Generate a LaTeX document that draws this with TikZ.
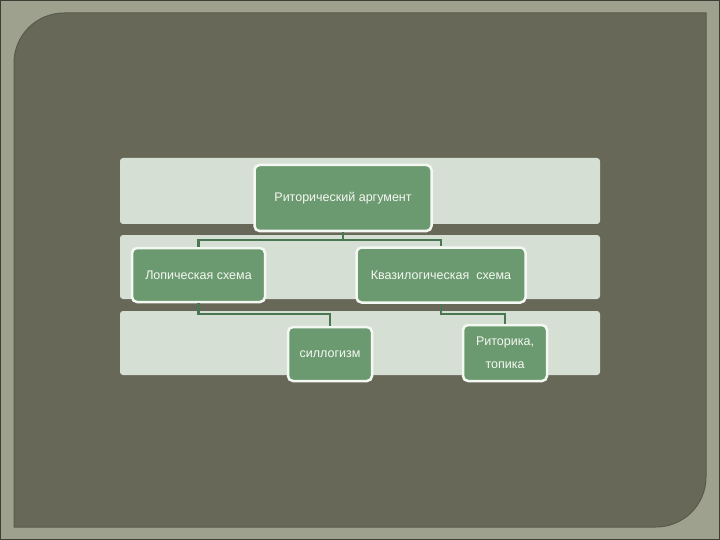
\documentclass[tikz,border=0pt]{standalone}
\usepackage{fontspec}
\setmainfont{Liberation Sans}
\usetikzlibrary{calc}
\definecolor{framecol}{HTML}{9FA18F}
\definecolor{edgecol}{HTML}{3E3E34}
\definecolor{panelcol}{HTML}{686858}
\definecolor{paneledge}{HTML}{5A5A4C}
\definecolor{bandcol}{HTML}{D5DFD4}
\definecolor{nodecol}{HTML}{6C9A70}
\definecolor{linecol}{HTML}{4A7752}
\definecolor{txtcol}{HTML}{F4F8F2}
\tikzset{
  band/.style={fill=bandcol, rounded corners=3pt},
  box/.style={draw=txtcol, line width=2.5pt, fill=nodecol, rounded corners=5pt,
    text=txtcol, font=\fontsize{12.5}{15}\selectfont, align=center, inner sep=0pt},
  conn/.style={draw=linecol, line width=2.5pt},
}
\begin{document}
\begin{tikzpicture}[x=1pt,y=-1pt]
\useasboundingbox (0,0) rectangle (720,540);
% frame
\fill[framecol] (0,0) rectangle (720,540);
\draw[edgecol, line width=1pt] (0.5,0.5) rectangle (719.5,539.5);
% panel
\filldraw[fill=panelcol, draw=paneledge, line width=1pt]
  (14,527) -- (14,300) [rounded corners=50pt] -- (14,13) -- (300,13) [sharp corners]
  -- (706,13) -- (706,300) [rounded corners=50pt] -- (706,527) -- (400,527) [sharp corners] -- cycle;
% bands
\fill[band] (120,158) rectangle (600,224);
\fill[band] (120,235) rectangle (600,299);
\fill[band] (120,311) rectangle (600,375);
% nodes
\node[box, minimum width=177pt, minimum height=66pt] (root) at (343,198) {Риторический аргумент};
\node[box, minimum width=133pt, minimum height=54pt] (lop) at (198.5,275) {Лопическая схема};
\node[box, minimum width=169pt, minimum height=55pt] (kvaz) at (441,275) {Квазилогическая\ \ схема};
\node[box, minimum width=84pt, minimum height=54pt] (sill) at (330,354) {силлогизм};
\node[box, minimum width=84pt, minimum height=56pt] (rit) at (505,353) {Риторика,\\[8pt]топика};
% connectors
\coordinate (bus1) at (0,240);
\coordinate (bus2) at (0,314);
\draw[conn] (root.south) -- (root.south |- bus1) -| (lop.north);
\draw[conn] (root.south |- bus1) -| (kvaz.north);
\draw[conn] (lop.south) |- (sill.north |- bus2) -- (sill.north);
\draw[conn] (kvaz.south) |- (rit.north |- bus2) -- (rit.north);
\end{tikzpicture}
\end{document}
